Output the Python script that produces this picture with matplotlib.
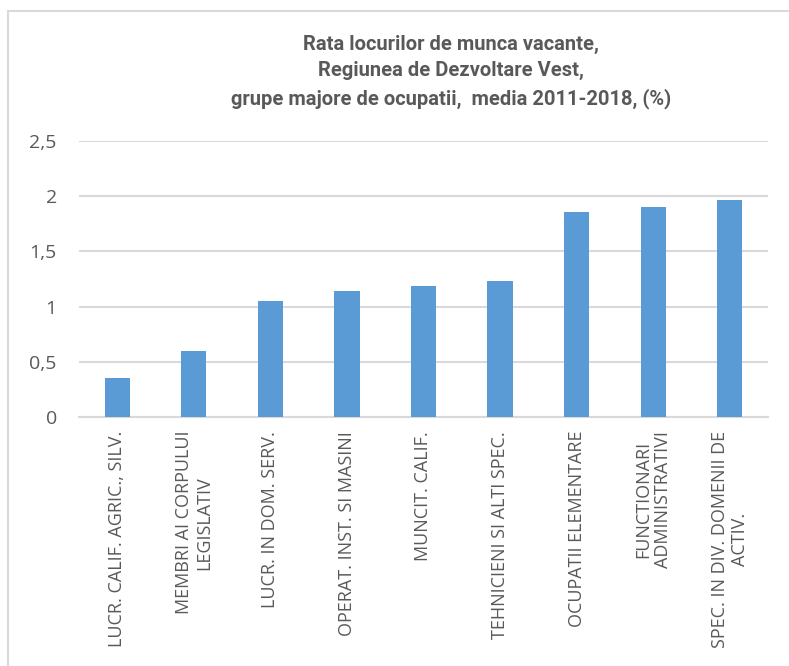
import matplotlib
matplotlib.use("Agg")
import matplotlib.pyplot as plt
from matplotlib.patches import Rectangle

categories = [
    "LUCR. CALIF. AGRIC., SILV.",
    "MEMBRI AI CORPULUI\nLEGISLATIV",
    "LUCR. IN DOM. SERV.",
    "OPERAT. INST. SI MASINI",
    "MUNCIT. CALIF.",
    "TEHNICIENI SI ALTI SPEC.",
    "OCUPATII ELEMENTARE",
    "FUNCTIONARI\nADMINISTRATIVI",
    "SPEC. IN DIV. DOMENII DE\nACTIV.",
]
values = [0.35, 0.60, 1.05, 1.14, 1.19, 1.23, 1.86, 1.90, 1.97]
yticks = [0, 0.5, 1, 1.5, 2, 2.5]
ytick_labels = ["0", "0,5", "1", "1,5", "2", "2,5"]
title = "Rata locurilor de munca vacante,\nRegiunea de Dezvoltare Vest,\ngrupe majore de ocupatii,  media 2011-2018, (%)"

W, H = 789, 666
fig = plt.figure(figsize=(W / 100, H / 100), dpi=100)
fig.patch.set_facecolor("white")

# chart-area border (left/top visible)
fig.patches.append(Rectangle((8 / W, -0.05), 1.2, (H - 11) / H + 0.05,
                             transform=fig.transFigure, fill=False,
                             edgecolor="#d9d9d9", linewidth=1.5))

left, right = 79 / W, 768 / W
bottom, top = 1 - 417 / H, 1 - 141 / H
ax = fig.add_axes([left, bottom, right - left, top - bottom])

x = list(range(len(categories)))
ax.bar(x, values, width=0.33, color="#5b9bd5", zorder=3)
ax.set_xlim(-0.5, len(categories) - 0.5)
ax.set_ylim(0, 2.5)
ax.set_yticks(yticks)
ax.set_yticklabels(ytick_labels, fontsize=14, color="#595959", fontfamily="Open Sans")
ax.set_xticks(x)
ax.set_xticklabels(categories, rotation=90, ha="center", va="top",
                   multialignment="center", fontsize=13, color="#595959",
                   fontfamily="Open Sans", linespacing=1.15)
ax.tick_params(axis="both", length=0)
ax.tick_params(axis="y", pad=16)
ax.tick_params(axis="x", pad=10)
for s in ["top", "right", "left"]:
    ax.spines[s].set_visible(False)
ax.spines["bottom"].set_color("#d9d9d9")
ax.spines["bottom"].set_linewidth(1.5)
ax.yaxis.grid(True, color="#d9d9d9", linewidth=1.5, zorder=0)
ax.set_axisbelow(True)

fig.text(451 / W, 1 - 72 / H, title, ha="center", va="center",
         fontsize=14.5, fontweight="bold", color="#595959",
         fontfamily=["Roboto", "DejaVu Sans"], linespacing=1.5)

fig.savefig("out.png", dpi=100, facecolor="white")
